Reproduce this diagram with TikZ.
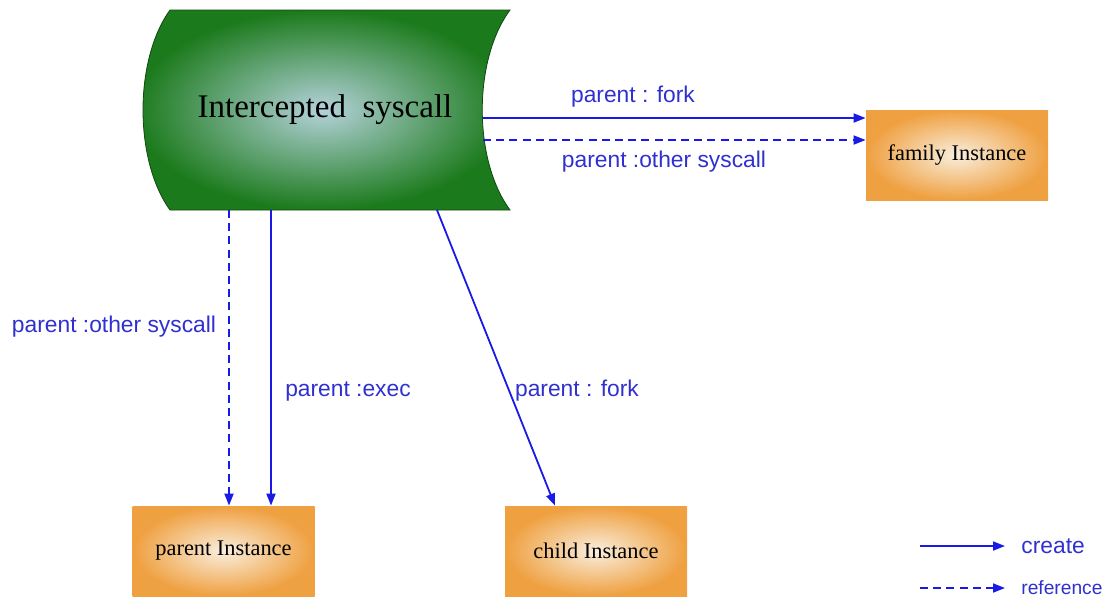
\documentclass[tikz,border=0pt]{standalone}
\usepackage{fontspec}
\setmainfont{Liberation Serif}
\newfontfamily\labelfont{Liberation Sans}
\usepackage{xcolor}
\definecolor{cSys}{HTML}{1B7A1B}
\definecolor{cSysEdge}{HTML}{0E4A0E}
\definecolor{cSysGlow}{HTML}{B4D2DA}
\definecolor{cInst}{HTML}{EFA040}
\definecolor{cInstGlow}{HTML}{F9EEDD}
\definecolor{cLink}{HTML}{1A1AE6}
\definecolor{cLabel}{HTML}{3030D0}
\usetikzlibrary{positioning,arrows.meta}
\tikzset{
  node-inst/.style={shading=radial,inner color=cInstGlow,outer color=cInst,
    minimum width=91pt,minimum height=45pt,align=center,
    font=\fontsize{11.2}{13}\selectfont},
  edge-label/.style={text=cLabel,font=\labelfont\fontsize{11.4}{13}\selectfont,inner sep=1pt},
  arrow-create/.style={-{Triangle[length=6pt,width=4.5pt]},line width=0.9pt,draw=cLink},
  arrow-ref/.style={arrow-create,dash pattern=on 4pt off 2.6pt},
}

\begin{document}
\begin{tikzpicture}[x=0.5pt,y=-0.5pt]
  \useasboundingbox (0,0) rectangle (1120,602);

  % intercepted syscall (stored data shape)
  \shadedraw[draw=cSysEdge,thin,inner color=cSysGlow,outer color=cSys]
    (170,10) -- (510,10) .. controls (473,60) and (473,160) .. (510,210)
    -- (170,210) .. controls (134,160) and (134,60) .. (170,10) -- cycle;
  \node[font=\fontsize{16.5}{19}\selectfont] (sys) at (325,110) {Intercepted\ \ syscall};
  \coordinate (sys-fork)  at (483,118);
  \coordinate (sys-ref)   at (483,140);
  \coordinate (sys-other) at (229,210);
  \coordinate (sys-exec)  at (271,210);
  \coordinate (sys-child) at (437,210);

  % instances
  \node[node-inst] (family) at (957,155) {family Instance};
  \node[node-inst] (parent) at (223.5,551) {parent Instance};
  \node[node-inst] (child)  at (596,551) {child Instance};

  % links
  \draw[arrow-create] (sys-fork) -- (sys-fork -| family.west);
  \draw[arrow-ref] (sys-ref) -- (sys-ref -| family.west);
  \draw[arrow-ref] (sys-other) -- (sys-other |- parent.north);
  \draw[arrow-create] (sys-exec) -- (sys-exec |- parent.north);
  \draw[arrow-create] (sys-child) -- ([xshift=-20.5pt]child.north);

  \node[edge-label] (lbl-fam-fork)  at (633,97)  {parent : fork};
  \node[edge-label] (lbl-fam-other) at (664,162) {parent :other syscall};
  \node[edge-label] (lbl-par-other) at (114,327) {parent :other syscall};
  \node[edge-label] (lbl-par-exec)  at (348,391) {parent :exec};
  \node[edge-label] (lbl-child)     at (577,391) {parent : fork};

  % legend
  \coordinate (leg-a1) at (920,546);
  \coordinate (leg-a2) at (1005,546);
  \coordinate (leg-b1) at (920,588);
  \coordinate (leg-b2) at (1005,588);
  \node[edge-label,anchor=west] (leg-create) at (1019,546) {create};
  \node[edge-label,anchor=west,font=\labelfont\fontsize{9.6}{11}\selectfont] (leg-ref) at (1019,588) {reference};
  \draw[arrow-create] (leg-a1) -- (leg-a2);
  \draw[arrow-ref] (leg-b1) -- (leg-b2);
\end{tikzpicture}
\end{document}
